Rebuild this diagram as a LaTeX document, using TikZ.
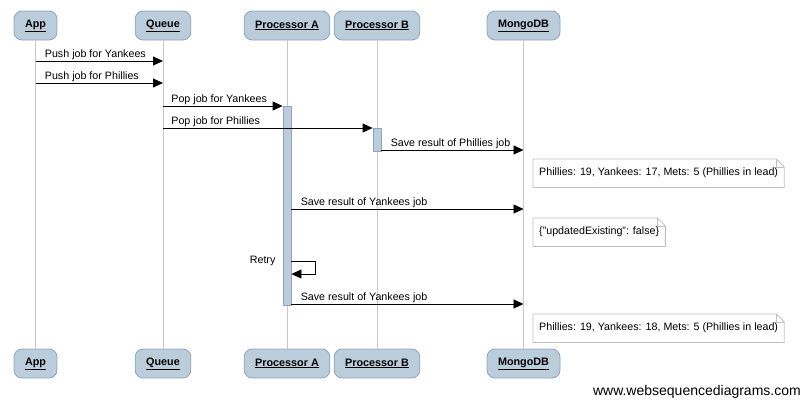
\documentclass[tikz,border=0pt]{standalone}
\usepackage{fontspec}
\setmainfont{Liberation Sans}
\usepackage{xcolor}
\usetikzlibrary{arrows.meta, positioning, calc}

\definecolor{actfill}{HTML}{BBCCDA}
\definecolor{actline}{HTML}{8EA3C0}
\definecolor{lifegray}{HTML}{C8C8C8}
\definecolor{notegray}{HTML}{C0C0C0}

\begin{document}
\begin{tikzpicture}[
    x=1pt, y=-1pt,
    every node/.style={font=\fontsize{10.7}{13}\selectfont},
    actor/.style={draw=actline, fill=actfill, rounded corners=8pt, line width=0.8pt,
      minimum height=29pt, inner xsep=11pt, font=\fontsize{10.8}{13}\selectfont\bfseries},
    lifeline/.style={draw=lifegray, line width=0.8pt},
    activ/.style={draw=actline, fill=actfill, line width=0.8pt, minimum width=8pt,
      inner sep=0pt, anchor=north},
    msg/.style={-{Triangle[length=10pt, width=9pt]}, line width=0.8pt},
    lbl/.style={anchor=base west, inner sep=0pt, xshift=9pt, yshift=4pt},
    note/.style={anchor=north west, inner xsep=6pt, minimum height=28pt},
    notebd/.style={draw=notegray, line width=0.8pt},
  ]
  \useasboundingbox (0,0) rectangle (802,400);

  % participants
  \node[actor] (app)   at (35.5,25.5)  {\underline{App}};
  \node[actor] (queue) at (163,25.5)   {\underline{Queue}};
  \node[actor] (procA) at (287,25.5)   {\underline{Processor A}};
  \node[actor] (procB) at (377,25.5)   {\underline{Processor B}};
  \node[actor] (mongo) at (523.5,25.5) {\underline{MongoDB}};

  \node[actor] (app2)   at (35.5,363.5)  {\underline{App}};
  \node[actor] (queue2) at (163,363.5)   {\underline{Queue}};
  \node[actor] (procA2) at (287,363.5)   {\underline{Processor A}};
  \node[actor] (procB2) at (377,363.5)   {\underline{Processor B}};
  \node[actor] (mongo2) at (523.5,363.5) {\underline{MongoDB}};

  \foreach \a in {app,queue,procA,procB,mongo}
    \draw[lifeline] (\a.south) -- (\a2.north);

  % activations
  \node[activ, minimum height=199pt] (actA) at (287,106) {};
  \node[activ, minimum height=23pt]  (actB) at (377,128) {};

  % messages
  \draw[msg] (app |- 0,61) -- (queue |- 0,61)
    node[lbl, pos=0] {Push job for Yankees};
  \draw[msg] (app |- 0,83) -- (queue |- 0,83)
    node[lbl, pos=0] {Push job for Phillies};
  \draw[msg] (queue |- 0,106) -- (actA.west |- 0,106)
    node[lbl, pos=0, xshift=-1pt] {Pop job for Yankees};
  \draw[msg] (queue |- 0,128) -- (actB.west |- 0,128)
    node[lbl, pos=0, xshift=-1pt] {Pop job for Phillies};
  \draw[msg] (actB.east |- 0,150) -- (mongo |- 0,150)
    node[lbl, pos=0] {Save result of Phillies job};
  \draw[msg] (actA.east |- 0,209) -- (mongo |- 0,209)
    node[lbl, pos=0] {Save result of Yankees job};
  \draw[msg] (actA.east |- 0,261) -- ++(24,0) |- (actA.east |- 0,274);
  \node[anchor=base east, inner sep=0pt, xshift=-7pt] (retry) at (actA.west |- 0,263) {Retry};
  \draw[msg] (actA.east |- 0,304) -- (mongo |- 0,304)
    node[lbl, pos=0] {Save result of Yankees job};

  % notes
  \node[note] (n1) at (533,159) {Phillies: 19, Yankees: 17, Mets: 5 (Phillies in lead)};
  \node[note] (n2) at (533,218) {\{"updatedExisting": false\}};
  \node[note] (n3) at (533,314) {Phillies: 19, Yankees: 18, Mets: 5 (Phillies in lead)};
  \foreach \n in {n1,n2,n3} {
    \draw[notebd] (\n.north west) -- ([xshift=-8pt]\n.north east)
      -- ([yshift=-8pt]\n.north east) -- (\n.south east) -- (\n.south west) -- cycle;
    \draw[notebd] ([xshift=-8pt]\n.north east) |- ([yshift=-8pt]\n.north east);
  }

  \node[anchor=east, inner sep=0pt, font=\fontsize{14}{16}\selectfont] (wsd)
    at (801,391.5) {www.websequencediagrams.com};
\end{tikzpicture}
\end{document}
